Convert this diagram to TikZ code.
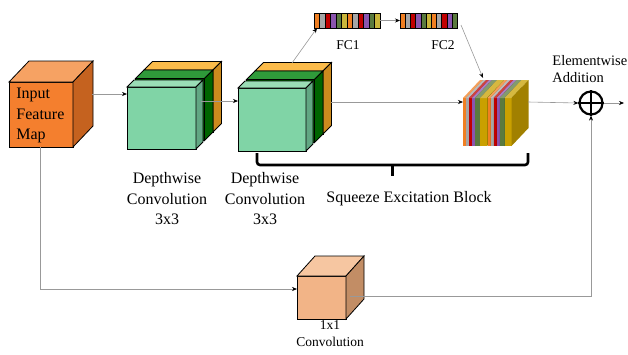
\documentclass[tikz,border=0pt]{standalone}
\usepackage{fontspec}
\setmainfont{Liberation Serif}
\usetikzlibrary{arrows.meta}
\definecolor{inF}{HTML}{F47F2E}
\definecolor{inT}{HTML}{F6A263}
\definecolor{inS}{HTML}{C5621F}
\definecolor{lgF}{HTML}{80D4A6}
\definecolor{lgT}{HTML}{9ADDB6}
\definecolor{lgS}{HTML}{62A783}
\definecolor{dgT}{HTML}{2F9A3A}
\definecolor{dgS}{HTML}{006400}
\definecolor{yeT}{HTML}{FBBB4A}
\definecolor{yeS}{HTML}{CC8A1E}
\definecolor{pcF}{HTML}{F2B487}
\definecolor{pcT}{HTML}{F6C6A1}
\definecolor{pcS}{HTML}{C28D65}
\definecolor{cOr}{HTML}{F07F22}
\definecolor{cGr}{HTML}{A6A6A6}
\definecolor{cRe}{HTML}{C00000}
\definecolor{cPu}{HTML}{8A55AE}
\definecolor{cGn}{HTML}{5A7A3E}
\definecolor{cYe}{HTML}{C9B53A}
\definecolor{cGo}{HTML}{C9A000}
\newcommand{\mycuboid}[9]{%
  \filldraw[fill=#7] (#1,#2) rectangle ++(#3,#4);
  \filldraw[fill=#8] (#1,#2) -- ++(#5,-#6) -- ++(#3,0) -- ++(-#5,#6) -- cycle;
  \filldraw[fill=#9] (#1+#3,#2) -- ++(#5,-#6) -- ++(0,#4) -- ++(-#5,#6) -- cycle;}
\newcommand{\myslab}[3]{% x, width, colour
  \fill[#3] (#1,98) rectangle ++(#2,48);
  \fill[#3!75!white] (#1,98) -- ++(17,-18) -- ++(#2,0) -- ++(-17,18) -- cycle;
  \fill[#3!80!black] (#1+#2,98) -- ++(17,-18) -- ++(0,48) -- ++(-17,18) -- cycle;}
\newcommand{\mystack}[1]{%
  \myslab{#1}{3}{cOr}\myslab{#1+3}{3}{cGr}\myslab{#1+6}{3}{cRe}%
  \myslab{#1+9}{3}{cPu}\myslab{#1+12}{5}{cGn}\myslab{#1+17}{7}{cGo}}
\tikzset{
  conn/.style={draw=black!40, line width=0.6pt, -{Stealth[black,length=5pt,width=4pt]}},
  lbl/.style={font=\fontsize{16}{20.5}\selectfont, inner sep=0pt, align=center},
  small/.style={font=\fontsize{13.5}{17.5}\selectfont, inner sep=0pt, align=center},
}
\begin{document}
\begin{tikzpicture}[x=1pt,y=-1pt, line width=0.8pt]
\useasboundingbox (0,0) rectangle (628,354);
% input cube
\mycuboid{9}{82}{64}{65}{20}{21}{inF}{inT}{inS}
\node[lbl, align=left, anchor=north west] (inlbl) at (16,88) {Input\\Feature\\Map};
% depthwise block 1
\mycuboid{144}{70}{69}{62}{8.5}{8.5}{yeS}{yeT}{yeS}
\mycuboid{135.5}{78.5}{69}{62}{8.5}{8.5}{dgS}{dgT}{dgS}
\mycuboid{127}{87}{69}{62}{7}{7}{lgF}{lgT}{lgS}
% depthwise block 2
\mycuboid{255}{71}{68}{63}{8.5}{8.5}{yeS}{yeT}{yeS}
\mycuboid{246.5}{79.5}{68}{63}{8.5}{8.5}{dgS}{dgT}{dgS}
\mycuboid{238}{88}{68}{63}{7}{7}{lgF}{lgT}{lgS}
% labels
\node[lbl, anchor=north] (dw1) at (167,172) {Depthwise\\Convolution\\3x3};
\node[lbl, anchor=north] (dw2) at (265,172) {Depthwise\\Convolution\\3x3};
\node[lbl, anchor=base] (se) at (409,202) {Squeeze Excitation Block};
% FC bars
\foreach \c [count=\i from 0] in {cOr,cGr,cRe,cPu,cGn,cYe,cOr,cGr,cRe,cPu,cGn,cYe}
  \filldraw[fill=\c, line width=0.5pt] (314+5.5*\i,13) rectangle ++(5.5,15);
\draw[line width=0.9pt] (314,13) rectangle (380,28);
\foreach \c [count=\i from 0] in {cOr,cGr,cRe,cPu,cGn,cYe,cOr,cGr,cRe,cPu,cGn}
  \filldraw[fill=\c, line width=0.5pt] (400+5.2*\i,13) rectangle ++(5.2,15);
\draw[line width=0.9pt] (400,13) rectangle (457.2,28);
\node[small] (fc1) at (348,45) {FC1};
\node[small] (fc2) at (443,45) {FC2};
\coordinate (fc1w) at (317,28);
\coordinate (fc1e) at (380,20.5);
\coordinate (fc2w) at (400,20.5);
\coordinate (fc2s) at (461,25);
% stacked block
\mystack{463}
\mystack{487.5}
% circle
\node[circle, draw, line width=2.2pt, minimum size=23pt, inner sep=0pt] (add) at (591,103) {};
\draw[line width=2.2pt] (add.north) -- (add.south) (add.west) -- (add.east);
\node[font=\fontsize{14.5}{17}\selectfont, inner sep=0pt, align=left, anchor=north west] (addlbl) at (552,55) {Elementwise\\Addition};
% 1x1 conv cube
\mycuboid{297}{276}{49}{43}{18}{20}{pcF}{pcT}{pcS}
\node[small, anchor=north] (c1lbl) at (330,320) {1x1\\Convolution};
% brace
\draw[line width=2.6pt, rounded corners=3pt] (257,153) -- (257,165) -- (528,165) -- (528,153);
\draw[line width=2.6pt] (392.5,165) -- (392.5,176);
% coordinates for connectors
\coordinate (inE) at (92,94);
\coordinate (b1W) at (127,94);
\coordinate (b1E) at (201,101);
\coordinate (b2W) at (238,101);
\coordinate (b2E) at (331,102);
\coordinate (b2T) at (292,63);
\coordinate (stW) at (463,102);
\coordinate (stE) at (528,102);
\coordinate (stT) at (483,78);
\coordinate (inS) at (40,147);
\coordinate (cnW) at (297,289);
\coordinate (cnE) at (350,296);
\coordinate (outE) at (624,103);
% connectors
\draw[conn] (inE) -- (b1W);
\draw[conn] (b1E) -- (b2W);
\draw[conn] (b2E) -- (stW);
\draw[conn] (b2T) -- (fc1w);
\draw[conn] (fc1e) -- (fc2w);
\draw[conn] (fc2s) -- (stT);
\draw[conn] (stE) -- (add.west);
\draw[conn] (add.east) -- (outE);
\draw[conn] (inS) |- (cnW);
\draw[conn] (cnE) -| (add.south);
\end{tikzpicture}
\end{document}
